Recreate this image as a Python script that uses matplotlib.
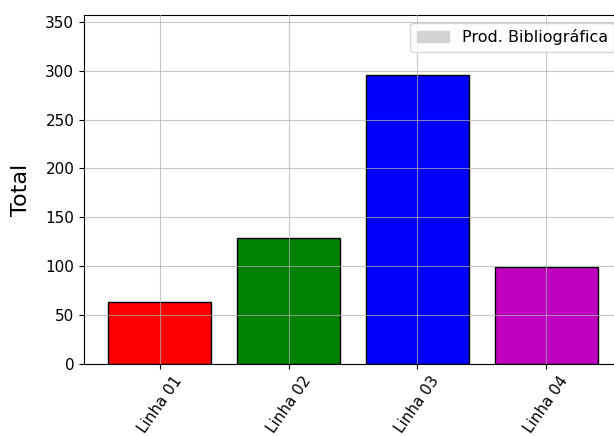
import matplotlib
matplotlib.use('Agg')
import matplotlib.pyplot as plt
from matplotlib.patches import Patch

# dados
linhas = ['Linha 01', 'Linha 02', 'Linha 03', 'Linha 04']
totais = [63, 129, 296, 99]
cores = ['r', 'g', 'b', 'm']

fig = plt.figure(figsize=(6.14, 4.36), dpi=100)
ax = fig.add_axes([84/614, 1 - 364/436, 538/614, 349/436])

ax.bar(linhas, totais, color=cores, edgecolor='black', width=0.8, zorder=1)
ax.set_ylim(0, 357)
ax.grid(True, zorder=3)
ax.set_axisbelow(False)
for ln in ax.get_xgridlines() + ax.get_ygridlines():
    ln.set_color('#b0b0b0')
    ln.set_alpha(0.7)

ax.tick_params(labelsize=11)
ax.set_ylabel('Total', fontsize=16, labelpad=10)
plt.xticks(rotation=55)

ax.legend(handles=[Patch(color='lightgray', label='Prod. Bibliográfica')],
          loc='upper right', fontsize=11.5)

plt.savefig('out.png', dpi=100)
